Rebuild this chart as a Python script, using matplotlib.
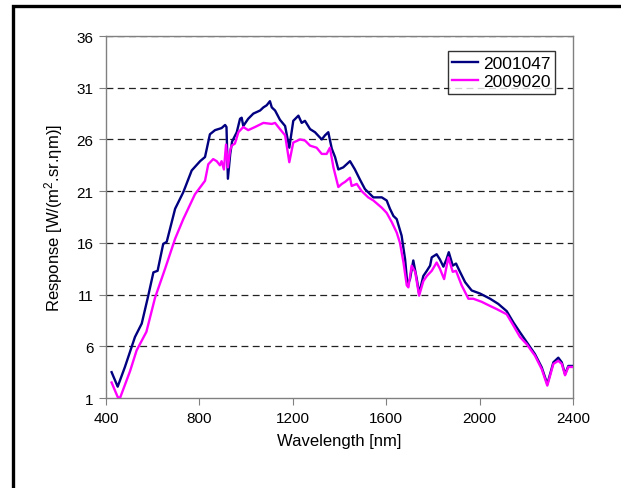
import matplotlib
matplotlib.use("Agg")
import matplotlib.pyplot as plt
from matplotlib.patches import Rectangle

plt.rcParams["font.family"] = ["Liberation Sans", "DejaVu Sans"]
plt.rcParams["mathtext.fontset"] = "custom"
plt.rcParams["mathtext.rm"] = "Liberation Sans"
plt.rcParams["mathtext.it"] = "Liberation Sans"

# Response curves
wl_2001047 = [424, 450, 481, 524, 553, 581, 603, 621, 645, 660, 696, 731, 767, 803,
              824, 845, 867, 895, 910, 916, 922, 932, 940, 960, 974, 981, 988, 1009,
              1031, 1060, 1074, 1088, 1102, 1110, 1124, 1145, 1167, 1185, 1202, 1224,
              1238, 1252, 1274, 1295, 1324, 1338, 1352, 1367, 1381, 1395, 1416, 1445,
              1466, 1488, 1509, 1545, 1581, 1602, 1616, 1631, 1645, 1666, 1681, 1691,
              1702, 1716, 1731, 1741, 1759, 1774, 1788, 1795, 1816, 1830, 1845, 1858,
              1868, 1885, 1899, 1916, 1938, 1966, 2002, 2045, 2080, 2116, 2145, 2173,
              2202, 2237, 2266, 2290, 2316, 2337, 2352, 2366, 2380, 2400]
resp_2001047 = [3.5, 2.1, 4.0, 6.9, 8.2, 10.9, 13.15, 13.3, 15.9, 16.1, 19.3, 20.9, 23.0, 23.9,
                24.3, 26.5, 26.9, 27.1, 27.4, 27.2, 22.2, 24.6, 25.8, 26.7, 28.0, 28.1, 27.3, 28.0,
                28.5, 28.8, 29.1, 29.3, 29.7, 29.1, 28.8, 27.9, 27.3, 25.2, 27.8, 28.3,
                27.6, 27.8, 27.0, 26.7, 26.0, 26.4, 26.7, 25.1, 24.3, 23.1, 23.3, 23.9,
                23.1, 22.1, 21.2, 20.4, 20.4, 20.1, 19.3, 18.6, 18.3, 16.7, 14.4, 11.9,
                12.5, 14.3, 12.5, 11.1, 12.8, 13.3, 13.8, 14.6, 14.9, 14.4, 13.7, 14.4,
                15.1, 13.8, 14.0, 13.2, 12.2, 11.4, 11.1, 10.6, 10.1, 9.4, 8.3, 7.35,
                6.4, 5.25, 3.97, 2.35, 4.45, 4.9, 4.45, 3.3, 4.1, 4.1]

wl_2009020 = [424, 450, 460, 503, 531, 573, 610, 653, 696, 731, 781, 824, 838, 859, 874,
              888, 895, 905, 914, 922, 931, 938, 952, 967, 988, 1009, 1038, 1074, 1110,
              1124, 1145, 1167, 1185, 1202, 1231, 1252, 1274, 1302, 1324, 1345, 1359,
              1374, 1395, 1410, 1424, 1445, 1452, 1474, 1495, 1523, 1545, 1581, 1602,
              1624, 1645, 1659, 1674, 1688, 1695, 1709, 1724, 1741, 1759, 1774, 1795,
              1816, 1830, 1848, 1866, 1885, 1899, 1923, 1952, 1973, 2009, 2045, 2073,
              2116, 2145, 2173, 2202, 2237, 2266, 2290, 2316, 2337, 2352, 2366, 2380, 2400]
resp_2009020 = [2.5, 1.1, 1.0, 3.6, 5.6, 7.4, 10.7, 13.5, 16.4, 18.3, 20.7, 22.0, 23.6, 24.1, 23.9,
                23.5, 23.9, 23.1, 25.5, 23.3, 24.9, 25.4, 25.6, 26.7, 27.2, 26.9, 27.2, 27.6, 27.5,
                27.6, 27.0, 26.4, 23.8, 25.7, 26.0, 25.9, 25.4, 25.2, 24.6, 24.6, 25.2,
                23.3, 21.4, 21.7, 21.9, 22.3, 21.5, 21.7, 21.0, 20.4, 20.1, 19.4, 18.9,
                18.0, 17.0, 16.0, 14.1, 11.9, 11.7, 13.8, 13.2, 10.9, 12.3, 12.8, 13.3,
                14.1, 13.5, 12.5, 14.6, 13.2, 13.3, 11.9, 10.6, 10.6, 10.3, 9.9, 9.6,
                9.1, 8.0, 6.9, 6.2, 5.1, 3.8, 2.2, 4.3, 4.6, 4.3, 3.2, 4.0, 4.0]

x_ticks = [400, 800, 1200, 1600, 2000, 2400]
y_ticks = [1, 6, 11, 16, 21, 26, 31, 36]

fig = plt.figure(figsize=(6.21, 4.89), dpi=100)
ax = fig.add_axes([0.1707, 0.184, 0.752, 0.7403])

ax.plot(wl_2001047, resp_2001047, color="#000080", lw=1.7, label="2001047", zorder=3)
ax.plot(wl_2009020, resp_2009020, color="#FF00FF", lw=1.7, label="2009020", zorder=3)

ax.set_xlim(400, 2400)
ax.set_ylim(1, 36)
ax.set_xticks(x_ticks)
ax.set_yticks(y_ticks)
for y in y_ticks[1:]:
    ax.axhline(y, color="#222222", lw=0.9, linestyle=(0, (5.5, 3.5)), zorder=1)

for s in ax.spines.values():
    s.set_color("#808080")
    s.set_linewidth(1.0)
ax.tick_params(direction="out", length=5, color="#808080", labelsize=11, pad=4)

ax.set_xlabel("Wavelength [nm]", fontsize=12, labelpad=6)
ax.set_ylabel("Response [W/(m$^2$.sr.\u03b7m)]", fontsize=12, labelpad=8)

leg = ax.legend(loc="upper left", bbox_to_anchor=(0.7317, 0.958), borderaxespad=0,
                fontsize=12.5, frameon=True, fancybox=False, handlelength=1.5,
                handletextpad=0.3, borderpad=0.25, labelspacing=0.2)
leg.get_frame().set_edgecolor("black")
leg.get_frame().set_linewidth(1.0)

# outer black frame of the original picture
fig.patches.append(Rectangle((13 / 621, -0.1), 1.2, 1.1 - 7 / 489, transform=fig.transFigure,
                             fill=False, edgecolor="black", lw=2.4, clip_on=False))

fig.savefig("out.png", dpi=100)
